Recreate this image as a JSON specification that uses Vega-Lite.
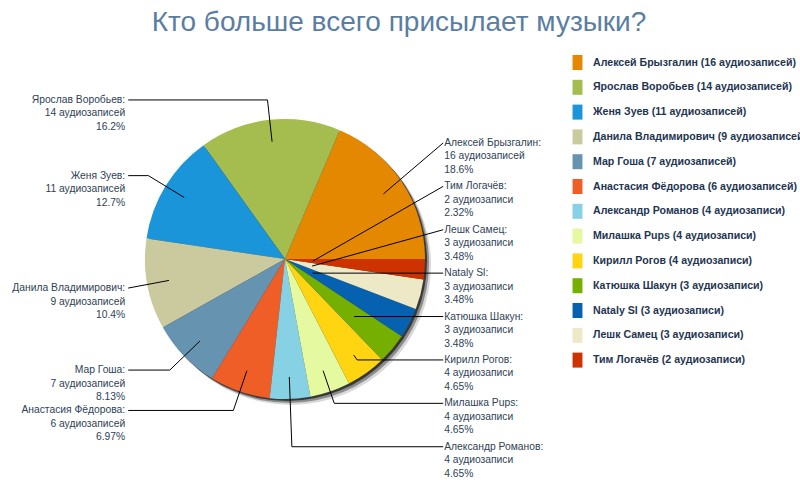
{
  "$schema": "https://vega.github.io/schema/vega-lite/v6.json",
  "width": 560,
  "height": 434,
  "autosize": "none",
  "padding": {"left": 5, "top": 42, "right": 235, "bottom": 24},
  "background": "white",
  "title": {
    "text": "Кто больше всего присылает музыки?",
    "font": "Liberation Sans",
    "fontSize": 28,
    "fontWeight": "normal",
    "color": "#5a7ea2",
    "anchor": "middle",
    "dx": 114,
    "offset": 5
  },
  "data": {
    "values": [
      {"name": "Алексей Брызгалин", "count": 16, "pct": 18.6},
      {"name": "Ярослав Воробьев", "count": 14, "pct": 16.2},
      {"name": "Женя Зуев", "count": 11, "pct": 12.7},
      {"name": "Данила Владимирович", "count": 9, "pct": 10.4},
      {"name": "Мар Гоша", "count": 7, "pct": 8.13},
      {"name": "Анастасия Фёдорова", "count": 6, "pct": 6.97},
      {"name": "Александр Романов", "count": 4, "pct": 4.65},
      {"name": "Милашка Pups", "count": 4, "pct": 4.65},
      {"name": "Кирилл Рогов", "count": 4, "pct": 4.65},
      {"name": "Катюшка Шакун", "count": 3, "pct": 3.48},
      {"name": "Nataly Sl", "count": 3, "pct": 3.48},
      {"name": "Лешк Самец", "count": 3, "pct": 3.48},
      {"name": "Тим Логачёв", "count": 2, "pct": 2.32}
    ]
  },
  "transform": [
    {"window": [{"op": "row_number", "as": "idx"}]},
    {"joinaggregate": [{"op": "sum", "field": "count", "as": "total"}]},
    {"window": [{"op": "sum", "field": "count", "as": "cum"}], "sort": [{"field": "idx", "order": "descending"}], "frame": [null, 0]},
    {"calculate": "PI / 2 + 2 * PI * (datum.cum - datum.count / 2) / datum.total", "as": "ang"},
    {"calculate": "sin(datum.ang)", "as": "ux"},
    {"calculate": "-cos(datum.ang)", "as": "uy"},
    {"calculate": "datum.ux >= 0 ? 'R' : 'L'", "as": "side"},
    {"window": [{"op": "row_number", "as": "rk"}], "groupby": ["side"], "sort": [{"field": "uy", "order": "ascending"}]},
    {"calculate": "datum.side == 'R' ? -0.829 + 0.31 * (datum.rk - 1) : 1.143 * datum.uy", "as": "ly"},
    {"calculate": "datum.side == 'R' ? 1.13 : -1.12", "as": "lx"},
    {"calculate": "datum.ly / datum.uy", "as": "dstar"},
    {"calculate": "clamp(datum.dstar, 0.2, 0.843)", "as": "din"},
    {"calculate": "datum.dstar > datum.din && datum.dstar <= datum.lx / datum.ux ? datum.dstar : datum.din", "as": "de"},
    {"calculate": "datum.din * datum.ux", "as": "px"},
    {"calculate": "datum.din * datum.uy", "as": "py"},
    {"calculate": "datum.de * datum.ux", "as": "ex"},
    {"calculate": "datum.de * datum.uy", "as": "ey"},
    {"calculate": "datum.count >= 2 && datum.count <= 4 ? 'аудиозаписи' : 'аудиозаписей'", "as": "word"},
    {"calculate": "datum.name + ' (' + datum.count + ' ' + datum.word + ')'", "as": "entry"},
    {"calculate": "datum.name + ':\\n' + datum.count + ' ' + datum.word + '\\n' + datum.pct + '%'", "as": "lab"}
  ],
  "layer": [
    {
      "transform": [{"aggregate": [{"op": "sum", "field": "count", "as": "count"}]}],
      "mark": {"type": "arc", "radius": 140, "fill": "black", "opacity": 0.15, "xOffset": 6, "yOffset": 6},
      "encoding": {"theta": {"field": "count", "type": "quantitative"}}
    },
    {
      "transform": [{"aggregate": [{"op": "sum", "field": "count", "as": "count"}]}],
      "mark": {"type": "arc", "radius": 140, "fill": "black", "opacity": 0.35, "xOffset": 4, "yOffset": 4},
      "encoding": {"theta": {"field": "count", "type": "quantitative"}}
    },
    {
      "transform": [{"aggregate": [{"op": "sum", "field": "count", "as": "count"}]}],
      "mark": {"type": "arc", "radius": 140, "fill": "black", "opacity": 0.6, "xOffset": 2, "yOffset": 2},
      "encoding": {"theta": {"field": "count", "type": "quantitative"}}
    },
    {
      "mark": {"type": "arc", "radius": 140, "strokeWidth": 0},
      "encoding": {
        "theta": {"field": "count", "type": "quantitative", "stack": true, "scale": {"range": [1.5707963, 7.8539816]}},
        "order": {"field": "idx", "sort": "descending"},
        "color": {
          "field": "entry",
          "type": "nominal",
          "scale": {
            "domain": [
              "Алексей Брызгалин (16 аудиозаписей)",
              "Ярослав Воробьев (14 аудиозаписей)",
              "Женя Зуев (11 аудиозаписей)",
              "Данила Владимирович (9 аудиозаписей)",
              "Мар Гоша (7 аудиозаписей)",
              "Анастасия Фёдорова (6 аудиозаписей)",
              "Александр Романов (4 аудиозаписи)",
              "Милашка Pups (4 аудиозаписи)",
              "Кирилл Рогов (4 аудиозаписи)",
              "Катюшка Шакун (3 аудиозаписи)",
              "Nataly Sl (3 аудиозаписи)",
              "Лешк Самец (3 аудиозаписи)",
              "Тим Логачёв (2 аудиозаписи)"
            ],
            "range": ["#e48701", "#a5bc4e", "#1b95d9", "#caca9e", "#6693b0", "#f05e27", "#86d1e4", "#e4f9a0", "#ffd512", "#75b000", "#0662b0", "#ede8c6", "#cc3300"]
          },
          "legend": {
            "title": null,
            "orient": "right",
            "offset": -8,
            "padding": 13,
            "symbolType": "M-0.66,-1H0.66V1H-0.66Z",
            "symbolSize": 225,
            "symbolStrokeWidth": 0,
            "symbolOpacity": 1,
            "labelFont": "Liberation Sans",
            "labelFontWeight": "bold",
            "labelFontSize": 10.6,
            "labelColor": "#1e3552",
            "labelLimit": 400,
            "labelOffset": 8,
            "rowPadding": 9.8
          }
        }
      }
    },
    {
      "mark": {"type": "rule", "color": "black", "strokeWidth": 1},
      "encoding": {
        "x": {"field": "px", "type": "quantitative", "scale": {"domain": [-2, 2], "nice": false, "zero": false}, "axis": null},
        "y": {"field": "py", "type": "quantitative", "scale": {"domain": [-1.55, 1.55], "reverse": true, "nice": false, "zero": false}, "axis": null},
        "x2": {"field": "ex"},
        "y2": {"field": "ey"}
      }
    },
    {
      "mark": {"type": "rule", "color": "black", "strokeWidth": 1},
      "encoding": {
        "x": {"field": "ex", "type": "quantitative", "scale": {"domain": [-2, 2], "nice": false, "zero": false}, "axis": null},
        "y": {"field": "ey", "type": "quantitative", "scale": {"domain": [-1.55, 1.55], "reverse": true, "nice": false, "zero": false}, "axis": null},
        "x2": {"field": "lx"},
        "y2": {"field": "ly"}
      }
    },
    {
      "transform": [{"filter": "datum.side == 'R'"}],
      "mark": {"type": "text", "align": "left", "baseline": "middle", "lineBreak": "\n", "font": "Liberation Sans", "fontSize": 10.3, "lineHeight": 13.5, "color": "#2e4257", "dx": 1},
      "encoding": {
        "x": {"field": "lx", "type": "quantitative", "scale": {"domain": [-2, 2], "nice": false, "zero": false}, "axis": null},
        "y": {"field": "ly", "type": "quantitative", "scale": {"domain": [-1.55, 1.55], "reverse": true, "nice": false, "zero": false}, "axis": null},
        "text": {"field": "lab", "type": "nominal"}
      }
    },
    {
      "transform": [{"filter": "datum.side == 'L'"}],
      "mark": {"type": "text", "align": "right", "baseline": "middle", "lineBreak": "\n", "font": "Liberation Sans", "fontSize": 10.3, "lineHeight": 13.5, "color": "#2e4257", "dx": -3},
      "encoding": {
        "x": {"field": "lx", "type": "quantitative", "scale": {"domain": [-2, 2], "nice": false, "zero": false}, "axis": null},
        "y": {"field": "ly", "type": "quantitative", "scale": {"domain": [-1.55, 1.55], "reverse": true, "nice": false, "zero": false}, "axis": null},
        "text": {"field": "lab", "type": "nominal"}
      }
    }
  ],
  "config": {"view": {"stroke": null}}
}
